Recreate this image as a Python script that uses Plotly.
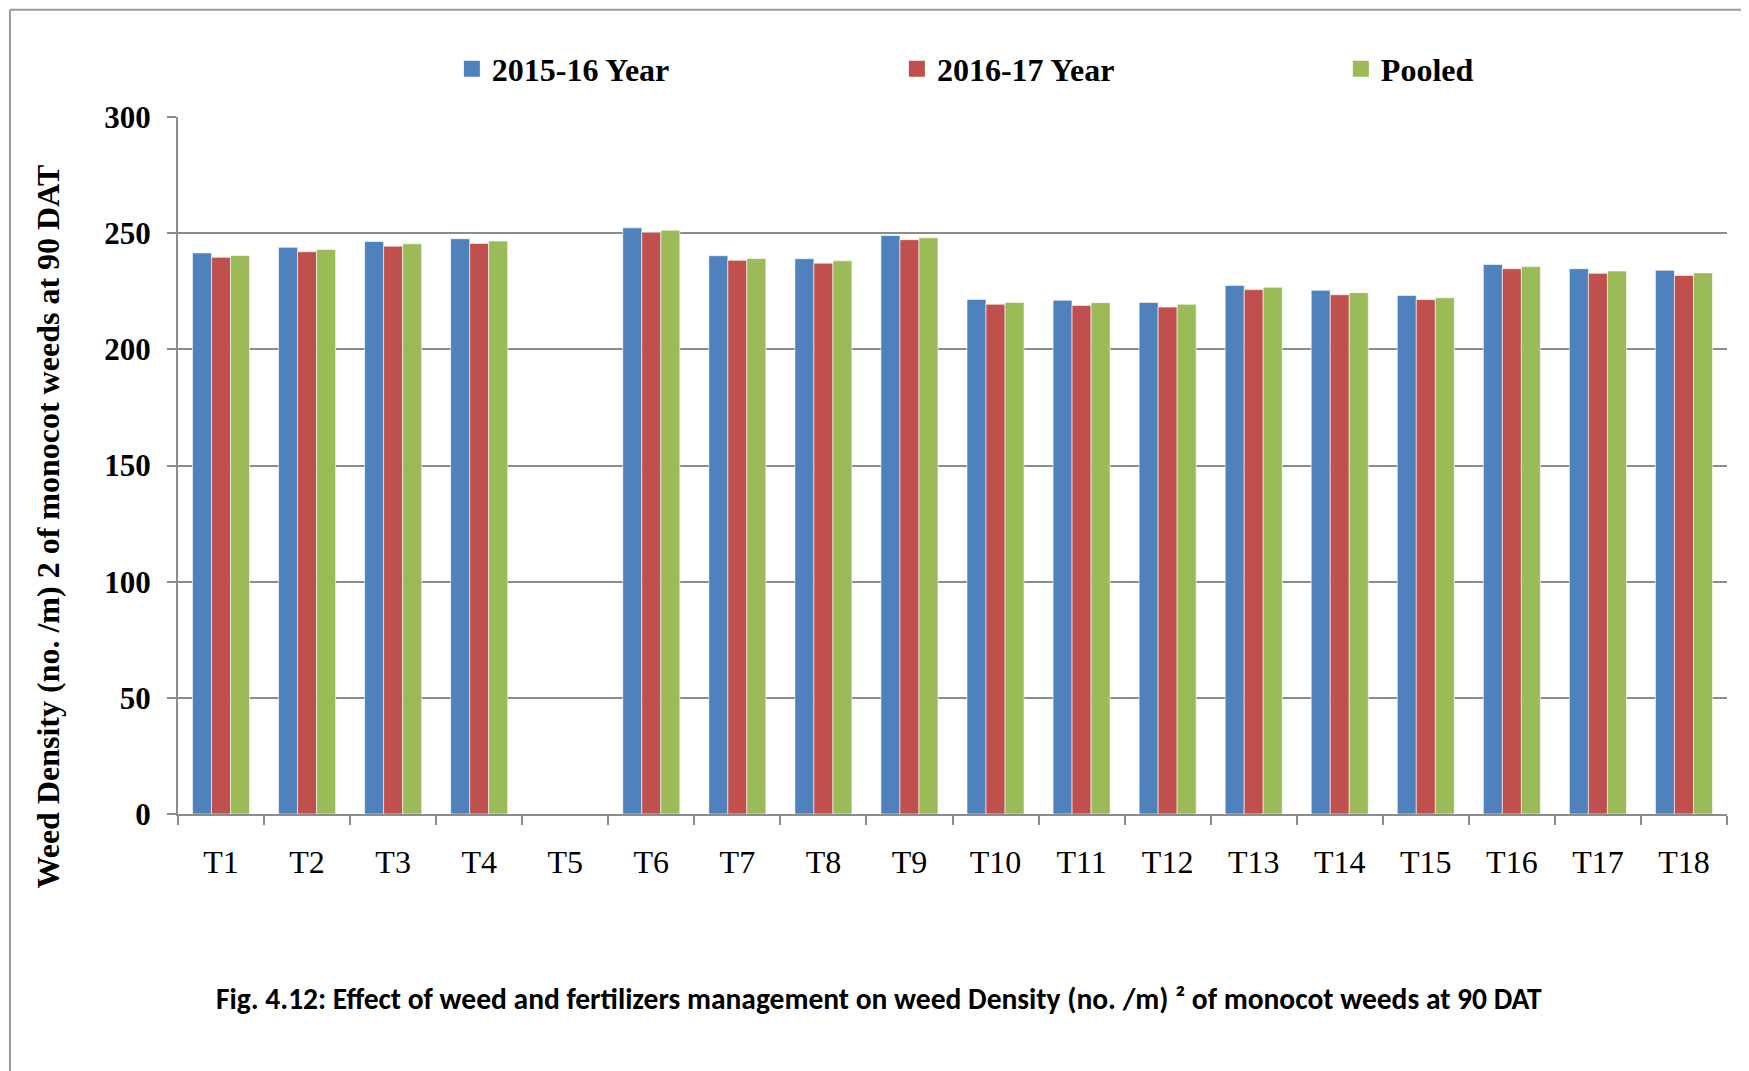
import plotly.graph_objects as go

# treatments on the x axis (T5 has no bars)
treatments = ["T1", "T2", "T3", "T4", "T5", "T6", "T7", "T8", "T9", "T10",
              "T11", "T12", "T13", "T14", "T15", "T16", "T17", "T18"]

year_1516 = [241.5, 243.9, 246.4, 247.6, None, 252.3, 240.3, 239.0, 249.0, 221.5,
             221.1, 220.2, 227.5, 225.4, 223.2, 236.5, 234.7, 234.0]
year_1617 = [239.6, 242.0, 244.4, 245.6, None, 250.4, 238.3, 237.1, 247.2, 219.4,
             218.9, 218.2, 225.7, 223.5, 221.4, 234.7, 232.7, 231.8]
pooled = [240.4, 243.0, 245.4, 246.6, None, 251.3, 239.1, 238.1, 248.0, 220.2,
          220.1, 219.4, 226.7, 224.4, 222.2, 235.6, 233.7, 232.9]

series_names = ["2015-16 Year", "2016-17 Year", "Pooled"]
colors = ["#4f81bd", "#c0504d", "#9bbb59"]
y_ticks = [0, 50, 100, 150, 200, 250, 300]

serif = "Liberation Serif, Times New Roman, serif"
grey = "#8c8c8c"

fig = go.Figure()
legends = ["legend", "legend2", "legend3"]
for name, vals, col, lg in zip(series_names, [year_1516, year_1617, pooled], colors, legends):
    fig.add_trace(go.Bar(x=treatments, y=vals, name=name, showlegend=False,
                         marker=dict(color=col, line=dict(color="rgba(255,255,255,0.6)", width=1))))
    # legend entry with a bigger square
    fig.add_trace(go.Scatter(x=[None], y=[None], name=name, mode="markers", legend=lg,
                             marker=dict(symbol="square", size=16, color=col)))

leg_font = dict(family=serif, size=32, weight="bold")
fig.update_layout(
    width=1741, height=1063,
    margin=dict(l=170, r=22, t=109, b=257),
    paper_bgcolor="white", plot_bgcolor="white",
    barmode="group", bargap=0.337, bargroupgap=0,
    font=dict(family=serif, color="black"),
    legend=dict(x=0.1768, y=1.069, xanchor="left", yanchor="middle", font=leg_font),
    legend2=dict(x=0.4641, y=1.069, xanchor="left", yanchor="middle", font=leg_font),
    legend3=dict(x=0.7507, y=1.069, xanchor="left", yanchor="middle", font=leg_font),
)

fig.update_xaxes(type="category", tickson="boundaries", ticks="outside", ticklen=9,
                 tickwidth=2, tickcolor=grey, showline=True, linecolor=grey, linewidth=2,
                 tickfont=dict(family=serif, size=32), ticklabelstandoff=19,
                 showgrid=False)
fig.update_yaxes(range=[0, 300], tickvals=y_ticks, ticks="outside", ticklen=9,
                 tickwidth=2, tickcolor=grey, showline=True, linecolor=grey, linewidth=2,
                 gridcolor=grey, gridwidth=2, zeroline=False,
                 tickfont=dict(family=serif, size=31, weight="bold"), ticklabelstandoff=10)

# y axis title
fig.add_annotation(text="Weed Density (no. /m) 2 of monocot weeds at 90 DAT",
                   xref="paper", yref="paper", x=-0.0842, y=0.4118,
                   xanchor="center", yanchor="middle",
                   textangle=-90, showarrow=False,
                   font=dict(family=serif, size=32, weight="bold"))

# caption under the chart
fig.add_annotation(text="Fig. 4.12: Effect of weed and fertilizers management on weed Density (no. /m) \u00b2 of monocot weeds at 90 DAT",
                   xref="paper", yref="paper", x=0.4526, y=-0.2654,
                   xanchor="center", yanchor="middle", showarrow=False,
                   font=dict(family="Carlito, Liberation Sans Narrow, Arial Narrow, Liberation Sans, sans-serif",
                             size=29.5, weight="bold"))

# outer frame (left and top edges)
fig.add_shape(type="line", xref="paper", yref="paper", x0=-0.1085, x1=-0.1085, y0=1.154, y1=-0.4,
              line=dict(color="#9a9a9a", width=2))
fig.add_shape(type="line", xref="paper", yref="paper", x0=-0.1085, x1=1.05, y0=1.154, y1=1.154,
              line=dict(color="#9a9a9a", width=2))

fig.write_html("out.html")
